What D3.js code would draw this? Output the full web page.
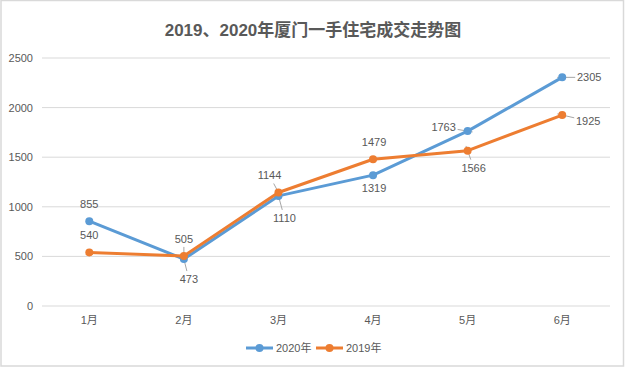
<!DOCTYPE html>
<html><head><meta charset="utf-8">
<script src="https://cdn.jsdelivr.net/npm/d3@7"></script>
<style>
body{margin:0;background:#fff;}
svg{display:block;font-family:"Liberation Sans","Noto Sans CJK SC",sans-serif;}
</style></head>
<body><svg id="c" width="625" height="368"></svg>
<script>
const categories = ["1月","2月","3月","4月","5月","6月"];
const series2020 = [855, 473, 1110, 1319, 1763, 2305];
const series2019 = [540, 505, 1144, 1479, 1566, 1925];
const yTicks = [0, 500, 1000, 1500, 2000, 2500];
const seriesNames = ["2020年", "2019年"];
const title = "2019、2020年厦门一手住宅成交走势图";

// label placement offsets (style only): [dx, dy, leader]
const lab2020 = [[0,-17,0],[5,20,1],[6,22,1],[1,13,0],[-24,-4,1],[27,0,1]];
const lab2019 = [[0,-17,0],[0,-17,1],[-9,-17,1],[1,-17,0],[6,17,1],[26,6,1]];

const svg = d3.select("#c");
const grey = "#595959";
const colors = ["#5B9BD5", "#ED7D31"];

svg.append("rect").attr("x",1).attr("y",0.5).attr("width",622.5).attr("height",365.5)
  .attr("fill","#fff").attr("stroke","#d9d9d9").attr("stroke-width",1.5);

const x = d3.scaleBand().domain(categories).range([42, 609.5]);
const y = d3.scaleLinear().domain([0, 2500]).range([306, 58]);

svg.append("g").selectAll("line").data(yTicks).join("line")
  .attr("x1", 42).attr("x2", 610)
  .attr("y1", d => y(d)).attr("y2", d => y(d))
  .attr("stroke", "#d9d9d9").attr("stroke-width", 1);

const yAxis = svg.append("g").attr("transform","translate(42,0)")
  .call(d3.axisLeft(y).tickValues(yTicks).tickFormat(d3.format("d")).tickSize(0).tickPadding(9));
yAxis.select(".domain").remove();
yAxis.selectAll("text").attr("fill", grey).attr("font-size", 11).attr("font-family","Liberation Sans, sans-serif");

const xAxis = svg.append("g").attr("transform","translate(0,306)")
  .call(d3.axisBottom(x).tickSize(0).tickPadding(10));
xAxis.select(".domain").remove();
xAxis.selectAll("text").attr("fill", grey).attr("font-size", 11).attr("font-family","Liberation Sans, Noto Sans CJK SC, sans-serif");

const cx = d => x(d) + x.bandwidth()/2;

svg.append("text").attr("x", 313).attr("y", 36).attr("text-anchor","middle")
  .attr("font-size", 17).attr("font-weight","bold").attr("fill", grey)
  .attr("font-family","Liberation Sans, Noto Sans CJK SC, sans-serif").text(title);

const all = [series2020, series2019];
const labs = [lab2020, lab2019];

all.forEach((s, si) => {
  s.forEach((v, i) => {
    const o = labs[si][i];
    if (!o[2]) return;
    const px = cx(categories[i]), py = y(v);
    const dx = o[0], dy = o[1];
    const len = Math.hypot(dx, dy);
    const hw = 14, hh = 8;
    const tEdge = Math.min(Math.abs(dx) > 0 ? hw/Math.abs(dx) : Infinity, Math.abs(dy) > 0 ? hh/Math.abs(dy) : Infinity);
    const endLen = len * (1 - tEdge);
    const startLen = -5;
    if (endLen - startLen < 4) return;
    svg.append("line")
      .attr("x1", px + dx/len*startLen).attr("y1", py + dy/len*startLen)
      .attr("x2", px + dx/len*endLen).attr("y2", py + dy/len*endLen)
      .attr("stroke", "#a6a6a6").attr("stroke-width", 1);
  });
});

const line = d3.line().x((d,i) => cx(categories[i])).y(d => y(d));
all.forEach((s, si) => {
  svg.append("path").datum(s).attr("d", line).attr("fill","none")
    .attr("stroke", colors[si]).attr("stroke-width", 3).attr("stroke-linejoin","round").attr("stroke-linecap","round");
  svg.append("g").selectAll("circle").data(s).join("circle")
    .attr("cx", (d,i) => cx(categories[i])).attr("cy", d => y(d)).attr("r", 4)
    .attr("fill", colors[si]);
});

all.forEach((s, si) => {
  svg.append("g").selectAll("text").data(s).join("text")
    .attr("x", (d,i) => cx(categories[i]) + labs[si][i][0])
    .attr("y", (d,i) => y(d) + labs[si][i][1])
    .attr("dy", "0.35em").attr("text-anchor","middle")
    .attr("font-size", 11).attr("fill", grey)
    .text(d => d);
});

const lg = svg.append("g").attr("transform","translate(0,348)");
const lx = [246, 316];
seriesNames.forEach((n, i) => {
  const g = lg.append("g").attr("transform", `translate(${lx[i]},0)`);
  g.append("line").attr("x1",0).attr("x2",27).attr("y1",0).attr("y2",0)
    .attr("stroke", colors[i]).attr("stroke-width",3);
  g.append("circle").attr("cx",13.5).attr("cy",0).attr("r",4).attr("fill",colors[i]);
  g.append("text").attr("x",30).attr("y",0).attr("dy","0.35em")
    .attr("font-size",11).attr("fill",grey)
    .attr("font-family","Liberation Sans, Noto Sans CJK SC, sans-serif").text(n);
});
</script></body></html>
